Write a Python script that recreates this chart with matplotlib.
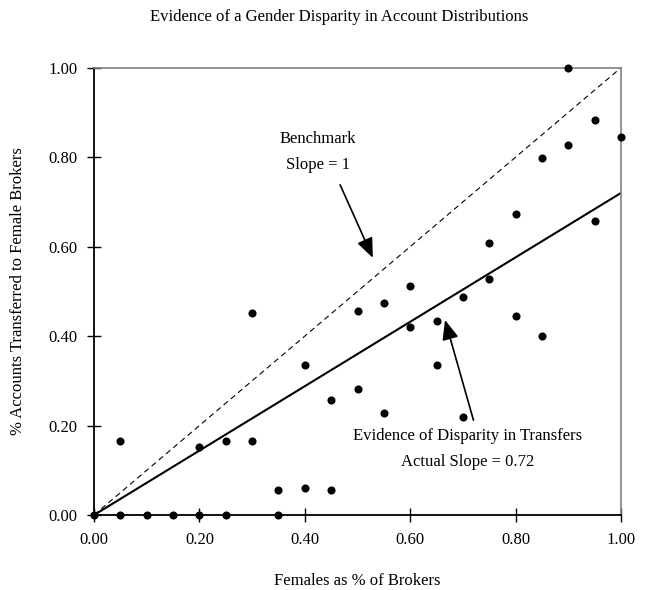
import matplotlib
matplotlib.use("Agg")
import matplotlib.pyplot as plt
import numpy as np

plt.rcParams['font.family'] = ['Liberation Serif', 'DejaVu Serif']

female_share = [0.00, 0.05, 0.05, 0.10, 0.15, 0.20, 0.20, 0.25, 0.25, 0.30,
                0.30, 0.35, 0.35, 0.40, 0.40, 0.45, 0.45, 0.50, 0.50, 0.55,
                0.55, 0.60, 0.60, 0.65, 0.65, 0.70, 0.70, 0.75, 0.75, 0.80,
                0.80, 0.85, 0.85, 0.90, 0.90, 0.95, 0.95, 1.00]
accounts_share = [0.000, 0.000, 0.165, 0.000, 0.000, 0.000, 0.152, 0.000, 0.165, 0.165,
                  0.452, 0.000, 0.057, 0.060, 0.336, 0.057, 0.256, 0.282, 0.457, 0.229,
                  0.473, 0.420, 0.513, 0.336, 0.433, 0.218, 0.487, 0.527, 0.607, 0.444,
                  0.674, 0.400, 0.799, 0.828, 1.000, 0.658, 0.882, 0.846]
benchmark_slope = 1.0
actual_slope = 0.72
ticks = [0.0, 0.2, 0.4, 0.6, 0.8, 1.0]

fig = plt.figure(figsize=(6.52, 5.90), dpi=100)
ax = fig.add_axes([0.1442, 0.1271, 0.8083, 0.7582])

line_x = np.array([0.0, 1.0])
ax.plot(line_x, benchmark_slope * line_x, color='black', lw=0.8,
        dashes=(5, 3.5), zorder=2)
ax.plot(line_x, actual_slope * line_x, color='black', lw=1.5, zorder=2)
ax.scatter(female_share, accounts_share, s=34, color='black', zorder=4,
           clip_on=False, linewidths=0)

ax.set_xlim(0, 1)
ax.set_ylim(0, 1)
ax.set_xticks(ticks)
ax.set_yticks(ticks)
ax.set_xticklabels([f"{t:.2f}" for t in ticks], fontsize=12)
ax.set_yticklabels([f"{t:.2f}" for t in ticks], fontsize=12)
ax.tick_params(direction='inout', length=10, width=1, pad=7, colors='black')

for side in ['left', 'bottom']:
    ax.spines[side].set_color('black')
    ax.spines[side].set_linewidth(1.3)
for side in ['top', 'right']:
    ax.spines[side].set_color('#808080')
    ax.spines[side].set_linewidth(1.2)

ax.set_xlabel('Females as % of Brokers', fontsize=12, labelpad=18)
ax.set_ylabel('% Accounts Transferred to Female Brokers', fontsize=12, labelpad=16)
fig.text(0.52, 0.972, 'Evidence of a Gender Disparity in Account Distributions',
         ha='center', va='center', fontsize=12)

arrow_style = dict(arrowstyle='-|>,head_length=1.2,head_width=0.5',
                   color='black', lw=1.2, shrinkA=0, shrinkB=0)

ax.text(0.425, 0.8115, 'Benchmark\nSlope = 1', ha='center', va='center',
        fontsize=12, linespacing=1.85)
ax.annotate('', xy=(0.529, 0.575), xytext=(0.467, 0.738),
            arrowprops=arrow_style, zorder=5)
ax.annotate('', xy=(0.666, 0.436), xytext=(0.72, 0.212),
            arrowprops=arrow_style, zorder=5)
ax.text(0.708, 0.1475, 'Evidence of Disparity in Transfers\nActual Slope = 0.72',
        ha='center', va='center', fontsize=12, linespacing=1.85)

fig.savefig('out.png', dpi=100)
